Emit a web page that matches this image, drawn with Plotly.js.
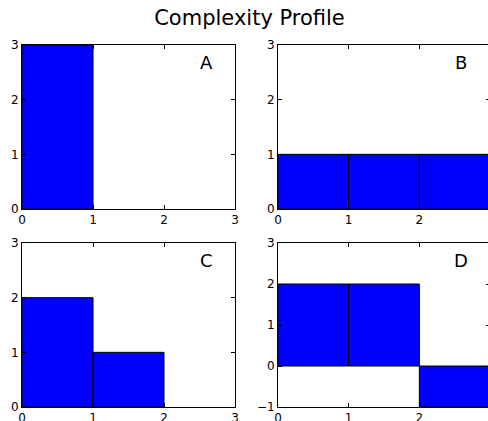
<!DOCTYPE html>
<html><head><meta charset="utf-8">
<script src="https://cdn.plot.ly/plotly-3.0.1.min.js"></script>
<style>html,body{margin:0;padding:0;overflow:hidden;background:#fff;}#chart{width:495px;height:421px;}</style>
</head><body><div id="chart"></div>
<script>
const binLefts = [0, 1, 2];
const profileA = [3];
const profileB = [1, 1, 1];
const profileC = [2, 1];
const profileD = [2, 2, -1];
const panelLabels = ["A", "B", "C", "D"];
const xTicks = [0, 1, 2, 3];
const xTickLabelsLeft = ["0", "1", "2", "3"];
const xTickLabelsRight = ["0", "1", "2", ""];
const yTicksPos = [0, 1, 2, 3];
const yTicksD = [-1, 0, 1, 2, 3];

const W = 495, H = 421;
const profiles = [profileA, profileB, profileC, profileD];
const axSuffix = ["", "2", "3", "4"];
const traces = profiles.map((vals, i) => ({
  type: "bar",
  x: binLefts.slice(0, vals.length),
  y: vals,
  width: 1,
  offset: 0,
  marker: {color: "#0000ff", line: {color: "#000000", width: 1}},
  xaxis: "x" + axSuffix[i],
  yaxis: "y" + axSuffix[i],
  hoverinfo: "none",
  showlegend: false
}));

const baseAxis = {
  showline: true, linecolor: "#000", linewidth: 1, mirror: "allticks",
  ticks: "inside", ticklen: 4, tickwidth: 1, tickcolor: "#000",
  showgrid: false, zeroline: false, tickfont: {family: "DejaVu Sans", size: 12, color: "#000"},
  fixedrange: true
};
const px = (a, b) => [a / W, b / W];
const py = (top, bottom) => [1 - bottom / H, 1 - top / H];

const layout = {
  width: W, height: H,
  margin: {l: 0, r: 0, t: 0, b: 0},
  paper_bgcolor: "#fff", plot_bgcolor: "#fff",
  bargap: 0,
  title: {text: "Complexity Profile", font: {family: "DejaVu Sans", size: 21, color: "#000"},
          x: 249.5 / W, xanchor: "center", y: 1 - 18 / H, yanchor: "middle"},
  xaxis:  Object.assign({}, baseAxis, {domain: px(22, 235),  range: [0, 3], tickvals: xTicks, ticktext: xTickLabelsLeft, anchor: "y"}),
  yaxis:  Object.assign({}, baseAxis, {domain: py(45, 209),  range: [0, 3], tickvals: yTicksPos, anchor: "x"}),
  xaxis2: Object.assign({}, baseAxis, {domain: px(278, 490), range: [0, 3], tickvals: xTicks, ticktext: xTickLabelsRight, anchor: "y2"}),
  yaxis2: Object.assign({}, baseAxis, {domain: py(45, 209),  range: [0, 3], tickvals: yTicksPos, anchor: "x2"}),
  xaxis3: Object.assign({}, baseAxis, {domain: px(22, 235),  range: [0, 3], tickvals: xTicks, ticktext: xTickLabelsLeft, anchor: "y3"}),
  yaxis3: Object.assign({}, baseAxis, {domain: py(243, 407), range: [0, 3], tickvals: yTicksPos, anchor: "x3"}),
  xaxis4: Object.assign({}, baseAxis, {domain: px(278, 490), range: [0, 3], tickvals: xTicks, ticktext: xTickLabelsRight, anchor: "y4"}),
  yaxis4: Object.assign({}, baseAxis, {domain: py(243, 407), range: [-1, 3], tickvals: yTicksD, anchor: "x4"}),
  annotations: panelLabels.map((t, i) => ({
    text: t, showarrow: false,
    xref: "x" + axSuffix[i] + " domain", yref: "y" + axSuffix[i] + " domain",
    x: 0.864, y: 0.893, xanchor: "center", yanchor: "middle",
    font: {family: "DejaVu Sans", size: 18, color: "#000"}
  }))
};

Plotly.newPlot("chart", traces, layout, {displayModeBar: false, staticPlot: true});
</script></body></html>
